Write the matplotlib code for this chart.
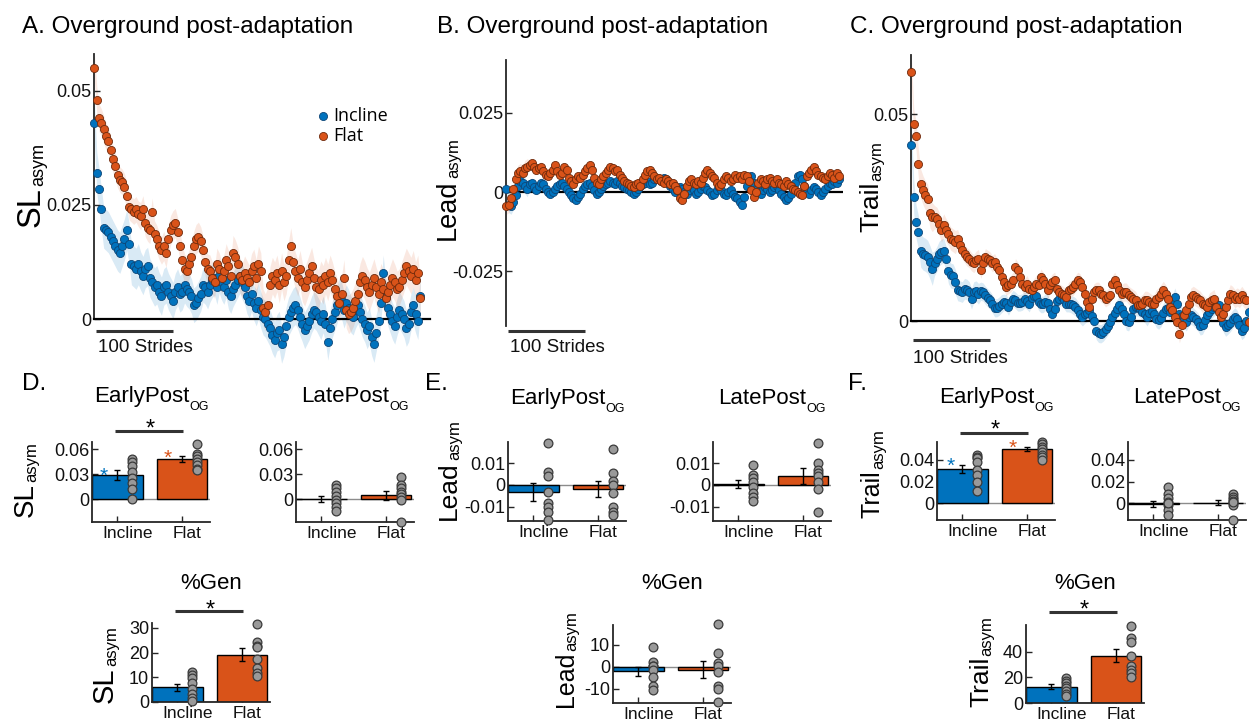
import numpy as np
import matplotlib
matplotlib.use("Agg")
import matplotlib.pyplot as plt
from matplotlib import font_manager
from matplotlib.transforms import blended_transform_factory

W, H = 1249, 724
_names = {f.name for f in font_manager.fontManager.ttflist}
BASE = 'Liberation Sans'
LEGF = 'Open Sans' if 'Open Sans' in _names else BASE
plt.rcParams['font.family'] = [BASE, 'DejaVu Sans']

BLUE, ORANGE = '#0072BD', '#D95319'
BLUE_EDGE, ORANGE_EDGE = '#0d4677', '#6e2a0c'
AXC = '#262626'

# ---------------- time-series data (units of 1e-4), one point every 3 strides ----------------
SCALE = 1e-4
STEP = 3
A_flat = [549,480,440,430,415,400,390,370,350,335,
          315,305,300,290,270,245,240,235,240,230,
          225,240,210,200,195,235,185,175,160,150,
          160,145,175,195,205,210,190,160,130,110,
          105,120,135,160,175,180,170,150,125,110,
          105,90,80,120,110,90,105,130,115,95,
          145,135,120,95,85,100,90,80,105,115,
          90,120,105,25,15,30,75,95,85,100,
          75,105,80,95,130,160,125,105,90,110,
          80,70,85,100,115,90,70,65,85,75,
          95,80,100,85,65,50,35,55,90,20,
          10,15,25,40,55,80,95,85,70,60,
          75,90,70,55,80,65,45,60,75,90,
          80,65,70,85,100,115,105,95,110,85,
          100,45]
A_inc = [430,320,285,240,200,195,190,180,170,160,
         150,145,160,175,195,165,120,115,110,120,
         105,95,110,115,90,80,70,75,60,50,
         70,75,60,50,40,60,70,55,60,75,
         65,60,50,30,35,45,55,75,70,60,
         75,85,90,70,95,80,70,85,60,50,
         65,75,85,95,80,70,50,40,55,35,
         25,40,20,5,0,-10,-20,-35,-45,-30,
         -25,-55,-40,-15,5,15,25,30,20,5,
         -10,-25,-15,-5,10,20,15,5,-5,10,
         -10,-50,-20,0,15,30,50,40,20,35,
         25,10,5,20,30,15,0,-10,-25,-15,
         -40,-55,-30,-5,35,100,50,25,10,-5,
         -15,5,20,10,0,-20,-10,15,30,10,
         -5,50]
B_flat = [-45,-40,-20,10,40,60,65,60,75,80,
          85,90,80,70,75,80,65,55,50,60,
          70,85,65,55,60,80,70,45,35,25,
          40,50,45,55,65,75,85,70,45,30,
          25,40,50,60,70,80,75,65,70,55,
          45,35,30,25,20,15,25,30,20,40,
          55,65,70,60,50,40,45,35,30,40,
          35,25,30,20,5,-20,-25,-5,20,35,
          40,30,25,35,30,45,60,70,60,50,
          45,30,20,25,40,50,45,35,40,55,
          45,50,40,55,50,35,5,-15,0,30,
          40,35,25,40,45,35,30,40,30,25,
          20,35,25,20,10,5,0,-5,-10,20,
          50,60,70,80,65,55,50,45,40,50,
          60,55,45,60,50]
B_inc = [10,-40,-45,-30,-10,20,35,30,20,10,
         25,30,15,5,20,30,25,10,0,-5,
         0,10,20,25,30,20,10,0,-10,-20,
         -25,-15,-5,10,20,25,30,20,5,-5,
         0,10,20,25,30,35,30,25,35,30,
         20,15,10,5,0,-5,0,10,20,25,
         30,35,25,30,40,45,40,35,45,40,
         30,20,10,0,5,15,10,0,-5,5,
         15,5,-5,0,10,20,15,5,0,-10,
         -5,5,15,5,-5,-10,0,5,-5,-15,
         -20,-30,-40,-15,20,45,50,30,10,0,
         -5,5,15,10,0,5,15,20,5,-5,
         -15,-25,-20,-5,10,30,50,55,40,20,
         0,-5,5,15,10,0,-10,0,10,20,
         30,25,35,30,40]
C_flat = [602,477,447,380,332,316,304,296,260,251,
          251,247,235,219,231,219,211,199,195,191,
          199,183,171,163,155,151,143,139,147,151,
          123,139,155,151,147,139,143,131,123,106,
          94,82,86,90,98,131,123,106,90,82,
          90,78,74,82,90,86,106,98,90,74,
          86,94,98,78,70,66,62,58,74,78,
          82,90,98,94,82,66,46,34,54,70,
          74,74,66,62,54,58,62,90,98,86,
          74,66,70,70,62,58,54,50,38,38,
          42,50,50,46,42,42,54,58,66,74,
          66,54,34,26,10,-2,-31,-10,14,26,
          42,58,62,58,54,50,42,38,34,46,
          50,54,34,22,10,18,34,50,66,62,
          54,58,54,62,54,50,-2]
C_inc = [425,300,240,215,170,163,160,155,142,126,
         140,150,163,168,170,150,120,110,108,95,
         74,72,70,78,76,70,54,70,72,66,
         72,70,62,56,50,42,32,32,36,42,
         45,44,34,46,54,50,44,44,46,52,
         48,42,56,60,60,46,40,40,46,44,
         28,18,30,48,54,58,50,42,42,40,
         38,34,26,16,10,16,20,26,12,0,
         -23,-30,-31,-27,-20,-12,-2,10,20,30,
         38,30,18,0,-2,10,30,34,34,30,
         22,18,10,20,24,18,6,2,8,20,
         30,32,22,40,58,40,18,12,4,-2,
         10,14,10,4,-2,-12,-10,2,14,22,
         28,34,40,38,14,-5,-15,-10,-4,4,
         10,4,-10,-23,-18,0,22]
# standard error (1e-4 units), one value per block of 10 points
A_inc_se = [45,45,42,40,38,38,38,40,42,40,40,40,40,40,40]
A_flat_se = [30,28,30,32,32,35,38,40,40,42,40,42,42,40,40]
B_inc_se = [25,15,15,12,12,12,12,12,12,12,12,12,12,12,12]
B_flat_se = [25,15,15,12,12,12,12,12,12,12,12,12,12,12,12]
C_inc_se = [40,30,25,22,20,20,20,22,22,22,22,22,22,22,22]
C_flat_se = [35,28,22,20,20,20,20,20,20,22,22,22,22,22,22]

# ---------------- bar-chart data ----------------
groups = ['Incline', 'Flat']
D_early_mean = [0.0290, 0.0485]; D_early_se = [0.0060, 0.0040]
D_early_inc = [0.049, 0.045, 0.040, 0.033, 0.026, 0.020, 0.013, 0.001]
D_early_flat = [0.067, 0.055, 0.052, 0.049, 0.045, 0.041, 0.037, 0.035]
D_late_mean = [0.0008, 0.0050]; D_late_se = [0.0035, 0.0052]
D_late_inc = [0.0170, 0.0142, 0.0091, 0.0039, -0.0008, -0.0047, -0.0087, -0.0134]
D_late_flat = [0.0268, 0.0172, 0.0132, 0.0092, 0.0064, 0.0032, -0.0008, -0.0268]
D_gen_mean = [5.9, 19.1]; D_gen_se = [1.4, 2.6]
D_gen_inc = [12.0, 10.9, 9.8, 7.5, 5.2, 3.2, 1.8, 0.5]
D_gen_flat = [31.7, 24.5, 22.8, 22.4, 17.3, 13.6, 11.6, 10.5]
E_early_mean = [-0.0034, -0.0018]; E_early_se = [0.0042, 0.0036]
E_early_inc = [0.0195, 0.0061, 0.0041, -0.0031, -0.0081, -0.0103, -0.0123, -0.0160]
E_early_flat = [0.0166, 0.0054, 0.0018, 0.0, -0.0035, -0.0100, -0.0123, -0.0138]
E_late_mean = [0.0005, 0.0041]; E_late_se = [0.0018, 0.0035]
E_late_inc = [0.0092, 0.0046, 0.0031, 0.0012, -0.0011, -0.0035, -0.0057, -0.0074]
E_late_flat = [0.0195, 0.0103, 0.0069, 0.0054, 0.0041, 0.0015, -0.0018, -0.0123]
E_gen_mean = [-2.0, -1.2]; E_gen_se = [2.2, 4.0]
E_gen_inc = [9.1, 2.1, 0.6, 0.5, -1.2, -4.5, -8.8, -10.3]
E_gen_flat = [19.4, 6.5, 2.0, 0.5, -2.3, -8.8, -10.0, -16.1]
F_early_mean = [0.0317, 0.0500]; F_early_se = [0.0040, 0.0017]
F_early_inc = [0.0445, 0.0430, 0.0415, 0.0384, 0.0307, 0.0260, 0.0200, 0.0117]
F_early_flat = [0.0568, 0.0547, 0.0523, 0.0498, 0.0476, 0.0445, 0.0424, 0.0400]
F_late_mean = [-0.0003, 0.0007]; F_late_se = [0.0028, 0.0020]
F_late_inc = [0.0154, 0.0083, 0.0046, 0.0015, -0.0015, -0.0062, -0.0108, 0.0]
F_late_flat = [0.0083, 0.0062, 0.0040, 0.0022, 0.0, -0.0015, -0.0154, 0.0010]
F_gen_mean = [12.8, 36.9]; F_gen_se = [1.7, 5.2]
F_gen_inc = [19.2, 17.4, 15.4, 13.3, 11.5, 9.5, 7.2, 5.1]
F_gen_flat = [60.0, 50.5, 47.2, 37.0, 28.7, 25.6, 23.1, 20.5]

# ---------------- figure ----------------
fig = plt.figure(figsize=(W / 100, H / 100), dpi=100)
renderer = fig.canvas.get_renderer()


def rect(l, t, r, b):
    return [l / W, 1 - b / H, (r - l) / W, (b - t) / H]


def fx(x):
    return x / W


def fy(y):
    return 1 - y / H


def style_axes(ax):
    for s in ['top', 'right']:
        ax.spines[s].set_visible(False)
    for s in ['left', 'bottom']:
        ax.spines[s].set_color(AXC)
        ax.spines[s].set_linewidth(1.3)
    ax.tick_params(direction='in', length=4, width=1, color=AXC, labelsize=13, pad=2,
                   labelcolor='#111111')


def ts_panel(box, inc, flat, inc_se, flat_se, ylim, yticks, ylabels, bottom_spine):
    l, t, r, b = box
    ax = fig.add_axes(rect(*box))
    style_axes(ax)
    ppx = 0.77  # pixels per stride
    ax.set_xlim(-0.6, -0.6 + (r - l) / ppx)
    ax.set_ylim(*ylim)
    handles = []
    for vals, se, band, alpha in [(inc, inc_se, BLUE, 0.15), (flat, flat_se, ORANGE, 0.13)]:
        y = np.array(vals) * SCALE
        x = np.arange(len(y)) * STEP
        s = np.repeat(np.array(se) * SCALE, 10)[:len(y)]
        ax.fill_between(x, y - s, y + s, color=band, alpha=alpha, lw=0, clip_on=False, zorder=1)
    for vals, c, ec in [(inc, BLUE, BLUE_EDGE), (flat, ORANGE, ORANGE_EDGE)]:
        y = np.array(vals) * SCALE
        x = np.arange(len(y)) * STEP
        h = ax.scatter(x, y, s=34, c=c, edgecolors=ec, linewidths=0.6, clip_on=False, zorder=3)
        handles.append(h)
    ax.set_xticks([])
    ax.set_yticks(yticks)
    ax.set_yticklabels(ylabels)
    if bottom_spine:
        ax.spines['bottom'].set_color('black')
        ax.spines['bottom'].set_linewidth(1.6)
    else:
        ax.spines['bottom'].set_visible(False)
        ax.axhline(0, color='black', lw=1.6, zorder=2)
    return ax, handles


def scale_bar(ax, box, ybar, ytxt, xtxt):
    l, t, r, b = box
    tr = blended_transform_factory(ax.transData, ax.transAxes)
    ya = (b - ybar) / (b - t)
    yt = (b - ytxt) / (b - t)
    ax.plot([2.5, 102.5], [ya, ya], transform=tr, color='#333333', lw=2.2,
            solid_capstyle='butt', clip_on=False)
    ax.text(xtxt, yt, '100 Strides', transform=tr, ha='left', va='center',
            fontsize=13.5, color='#111111')


def ylabel2(xb, yb, main, size, sub='asym', subsize=12, dx=3, gap=1):
    t1 = fig.text(fx(xb), fy(yb), main, rotation=90, rotation_mode='anchor',
                  ha='left', va='baseline', fontsize=size)
    L = t1.get_window_extent(renderer).height
    fig.text(fx(xb + dx), fy(yb - L - gap), sub, rotation=90, rotation_mode='anchor',
             ha='left', va='baseline', fontsize=subsize)


def title2(xc, yb, main, sub=None, size=16, subsize=9, dy=8):
    t1 = fig.text(0, fy(yb), main, fontsize=size, ha='left', va='baseline')
    w1 = t1.get_window_extent(renderer).width
    w2 = 0
    t2 = None
    if sub:
        t2 = fig.text(0, fy(yb + dy), sub, fontsize=subsize, ha='left', va='baseline')
        w2 = t2.get_window_extent(renderer).width
    x0 = xc - (w1 + w2) / 2
    t1.set_x(fx(x0))
    if t2 is not None:
        t2.set_x(fx(x0 + w1))


# ---- top row ----
boxA = (94, 54, 430, 319)
axA, hA = ts_panel(boxA, A_inc, A_flat, A_inc_se, A_flat_se, (0, 0.058),
                   [0, 0.025, 0.05], ['0', '0.025', '0.05'], True)
axA.spines['left'].set_bounds(0, 0.058)
scale_bar(axA, boxA, 331, 348, 4.0)
axA.legend(hA, groups, loc='upper left', bbox_to_anchor=(fx(318), fy(107)),
           bbox_transform=fig.transFigure, frameon=False, borderpad=0, borderaxespad=0,
           handlelength=0.6, handletextpad=0.25, labelspacing=0.1, scatterpoints=1,
           prop={'family': LEGF, 'size': 13})

boxB = (506, 60, 843, 326)
axB, _ = ts_panel(boxB, B_inc, B_flat, B_inc_se, B_flat_se, (-0.0422, 0.0416),
                  [-0.025, 0, 0.025], ['-0.025', '0', '0.025'], False)
scale_bar(axB, boxB, 331, 348, 4.0)

boxC = (911, 55, 1245, 321)
axC, _ = ts_panel(boxC, C_inc, C_flat, C_inc_se, C_flat_se, (0, 0.0643),
                  [0, 0.05], ['0', '0.05'], True)
scale_bar(axC, boxC, 340, 358, 2.5)

for x, lab in [(22, 'A.'), (437, 'B.'), (850, 'C.')]:
    fig.text(fx(x), fy(33), lab + ' Overground post-adaptation', fontsize=17.5,
             ha='left', va='baseline')

ylabel2(40, 227, 'SL', 23.5, subsize=13)
ylabel2(455, 240, 'Lead', 19.5)
ylabel2(878, 232, 'Trail', 19)

# ---- bar panels ----
CAT_PX = 64.5                      # pixels between the two bar centres
XL = (0.605, 0.605 + 118 / CAT_PX)
BW = 0.79
DOT_DX = 0.23
LABEL_SHIFT_PX = [10, 5]           # tick labels sit slightly right of the ticks


def bar_panel(box, means, ses, inc_pts, flat_pts, ylim, yticks, ylabels):
    ax = fig.add_axes(rect(*box))
    style_axes(ax)
    x = np.arange(1, 3)
    ax.set_xlim(*XL)
    ax.set_ylim(*ylim)
    ax.axhline(0, color='#8c8c8c', lw=1.0, zorder=0.5)
    ax.bar(x, means, width=BW, color=[BLUE, ORANGE], edgecolor='black', linewidth=1.0, zorder=2)
    ax.errorbar(x, means, yerr=ses, fmt='none', ecolor='black', elinewidth=1.0,
                capsize=2.2, capthick=1.0, zorder=3)
    for xi, pts in zip(x, [inc_pts, flat_pts]):
        ax.scatter(np.full(len(pts), xi + DOT_DX), pts, s=40, c='#999999',
                   edgecolors='#3a3a3a', linewidths=0.9, zorder=4, clip_on=False)
    ax.set_xticks(x)
    ax.set_xticklabels(['', ''])
    for xi, lab, dpx in zip(x, groups, LABEL_SHIFT_PX):
        ax.annotate(lab, (xi + dpx / CAT_PX, 0), xycoords=('data', 'axes fraction'),
                    xytext=(0, -3.2), textcoords='offset points', ha='center', va='top',
                    fontsize=12.5, color='#111111', annotation_clip=False)
    ax.set_yticks(yticks)
    ax.set_yticklabels(ylabels)
    return ax


def star(ax, x, y, color, size):
    ax.annotate('*', (x, y), xytext=(0, -0.58 * size), textcoords='offset points',
                ha='center', va='baseline', fontsize=size, color=color, annotation_clip=False)


def sig(ax, y, ystar, size=17):
    ax.plot([0.96, 2.02], [y, y], color='#333333', lw=2.2, clip_on=False, solid_capstyle='butt')
    star(ax, 1.5, ystar, 'black', size)


axDe = bar_panel((92, 442, 210, 522), D_early_mean, D_early_se, D_early_inc, D_early_flat,
                 (-0.0272, 0.0688), [0, 0.03, 0.06], ['0', '0.03', '0.06'])
axDl = bar_panel((296, 442, 414, 522), D_late_mean, D_late_se, D_late_inc, D_late_flat,
                 (-0.0272, 0.0688), [0, 0.03, 0.06], ['0', '0.03', '0.06'])
axDg = bar_panel((152, 623, 270, 702), D_gen_mean, D_gen_se, D_gen_inc, D_gen_flat,
                 (0, 32.0), [0, 10, 20, 30], ['0', '10', '20', '30'])
axEe = bar_panel((508, 442, 626, 521), E_early_mean, E_early_se, E_early_inc, E_early_flat,
                 (-0.0166, 0.0198), [-0.01, 0, 0.01], ['-0.01', '0', '0.01'])
axEl = bar_panel((713, 442, 831, 521), E_late_mean, E_late_se, E_late_inc, E_late_flat,
                 (-0.0166, 0.0198), [-0.01, 0, 0.01], ['-0.01', '0', '0.01'])
axEg = bar_panel((613, 625, 731, 703), E_gen_mean, E_gen_se, E_gen_inc, E_gen_flat,
                 (-16.4, 19.1), [-10, 0, 10], ['-10', '0', '10'])
axFe = bar_panel((937, 442, 1055, 520), F_early_mean, F_early_se, F_early_inc, F_early_flat,
                 (-0.0154, 0.0566), [0, 0.02, 0.04], ['0', '0.02', '0.04'])
axFl = bar_panel((1128, 442, 1246, 520), F_late_mean, F_late_se, F_late_inc, F_late_flat,
                 (-0.0154, 0.0566), [0, 0.02, 0.04], ['0', '0.02', '0.04'])
axFg = bar_panel((1026, 625, 1144, 703), F_gen_mean, F_gen_se, F_gen_inc, F_gen_flat,
                 (0, 60.8), [0, 20, 40], ['0', '20', '40'])

# significance markers
sig(axDe, 0.082, 0.093)
star(axDe, 0.79, 0.036, BLUE, 15)
star(axDe, 1.78, 0.057, ORANGE, 15)
sig(axFe, 0.065, 0.074)
star(axFe, 0.81, 0.040, BLUE, 15)
star(axFe, 1.78, 0.0566, ORANGE, 15)
sig(axDg, 36.7, 40.3)
sig(axFg, 70.9, 77.9)

# titles
title2(151, 402, 'EarlyPost', 'OG')
title2(355, 402, 'LatePost', 'OG')
title2(567, 404, 'EarlyPost', 'OG')
title2(772, 404, 'LatePost', 'OG')
title2(996, 403, 'EarlyPost', 'OG')
title2(1187, 403, 'LatePost', 'OG')
title2(211, 589, '%Gen')
title2(672, 589, '%Gen')
title2(1085, 589, '%Gen')

for x, lab in [(22, 'D.'), (425, 'E.'), (848, 'F.')]:
    fig.text(fx(x), fy(390), lab, fontsize=17.5, ha='left', va='baseline')

ylabel2(33, 517, 'SL', 20)
ylabel2(456, 520, 'Lead', 19)
ylabel2(880, 518, 'Trail', 18)
ylabel2(113, 703, 'SL', 21)
ylabel2(573, 707, 'Lead', 18)
ylabel2(988, 707, 'Trail', 19)

fig.savefig('out.png', dpi=100)
